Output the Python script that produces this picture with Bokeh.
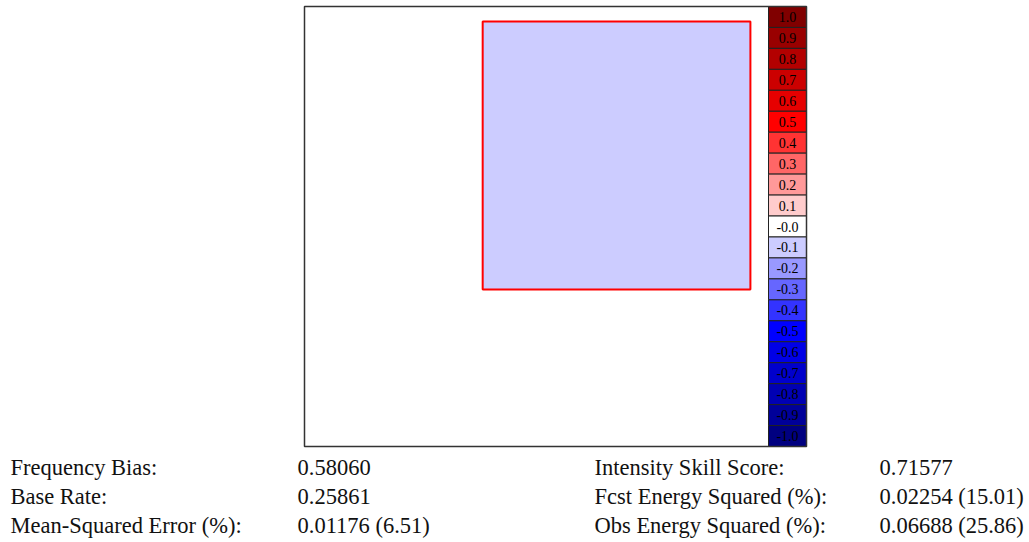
from bokeh.plotting import figure
from bokeh.models import Range1d, ColumnDataSource
from bokeh.core.properties import value
from bokeh.embed import file_html
from bokeh.resources import INLINE

# ---- data ----
# region (in fractional domain units) where the intensity-scale box is drawn
box_left, box_right = 0.384, 0.961
box_bottom, box_top = 0.357, 0.966
box_value = -0.1

cbar_levels = [1.0, 0.9, 0.8, 0.7, 0.6, 0.5, 0.4, 0.3, 0.2, 0.1, -0.0,
               -0.1, -0.2, -0.3, -0.4, -0.5, -0.6, -0.7, -0.8, -0.9, -1.0]
cbar_labels = ["1.0", "0.9", "0.8", "0.7", "0.6", "0.5", "0.4", "0.3", "0.2", "0.1", "-0.0",
               "-0.1", "-0.2", "-0.3", "-0.4", "-0.5", "-0.6", "-0.7", "-0.8", "-0.9", "-1.0"]
cbar_colors = ["#800000", "#990000", "#b30000", "#cc0000", "#e60000", "#ff0000",
               "#ff3333", "#ff6666", "#ff9999", "#ffcccc", "#ffffff",
               "#ccccff", "#9999ff", "#6666ff", "#3333ff", "#0000ff",
               "#0000e6", "#0000cc", "#0000b3", "#000099", "#000080"]

left_names = ["Frequency Bias:", "Base Rate:", "Mean-Squared Error (%):"]
left_values = ["0.58060", "0.25861", "0.01176 (6.51)"]
right_names = ["Intensity Skill Score:", "Fcst Energy Squared (%):", "Obs Energy Squared (%):"]
right_values = ["0.71577", "0.02254 (15.01)", "0.06688 (25.86)"]

# ---- layout (page pixels) ----
W, H = 1029, 542
plot_left, main_w, cbar_w = 304, 464, 38
plot_top, plot_h = 6, 440
x_end = 1 + cbar_w / main_w

p = figure(width=W, height=H, output_backend="svg", toolbar_location=None,
           x_range=Range1d(0, W), y_range=Range1d(H, 0), min_border=0,
           outline_line_color=None)
p.axis.visible = False
p.grid.visible = False
# domain ranges mapping 0..1 onto the plot box
p.extra_x_ranges = {"dom": Range1d(-plot_left / main_w, (W - plot_left) / main_w)}
p.extra_y_ranges = {"dom": Range1d(-(H - plot_top - plot_h) / plot_h, (plot_h + plot_top) / plot_h)}

box_color = cbar_colors[cbar_levels.index(box_value)]
p.quad(left=[box_left], right=[box_right], bottom=[box_bottom], top=[box_top],
       fill_color=box_color, line_color="#ff0000", line_width=2,
       x_range_name="dom", y_range_name="dom")

n = len(cbar_levels)
tops = [1 - i / n for i in range(n)]
bottoms = [1 - (i + 1) / n for i in range(n)]
src = ColumnDataSource(dict(top=tops, bottom=bottoms,
                            mid=[(t + b) / 2 for t, b in zip(tops, bottoms)],
                            color=cbar_colors, label=cbar_labels))
p.quad(left=1.0, right=x_end, top="top", bottom="bottom", fill_color="color",
       line_color="#222222", line_width=1, source=src,
       x_range_name="dom", y_range_name="dom")
p.text(x=(1 + x_end) / 2, y="mid", text="label", source=src,
       text_font=value("Liberation Serif"), text_font_size="14px",
       text_align="center", text_baseline="middle", text_color="#000000",
       x_range_name="dom", y_range_name="dom")
# plot box outline
p.quad(left=[0], right=[x_end], bottom=[0], top=[1], fill_color=None,
       line_color="#333333", line_width=1.5, x_range_name="dom", y_range_name="dom")

# ---- stats text ----
rows_y = [467, 496, 525]
for xs, texts in [(10, left_names), (297, left_values), (594, right_names), (879, right_values)]:
    p.text(x=[xs] * len(texts), y=rows_y, text=texts,
           text_font=value("Liberation Serif"), text_font_size="22.5px",
           text_align="left", text_baseline="middle", text_color="#111111")

open("out.html", "w").write(file_html(p, INLINE))
